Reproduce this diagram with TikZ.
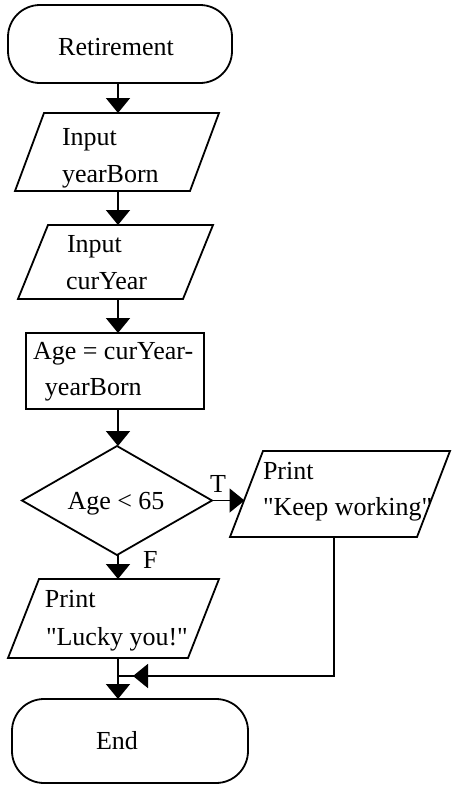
\documentclass[tikz,border=0pt]{standalone}
\usepackage{fontspec}
\setmainfont{Liberation Serif}[Ligatures=TeXOff]
\usetikzlibrary{arrows.meta,calc}
\tikzset{
  shp/.style={draw=none,inner sep=0pt,outer sep=0pt,rectangle},
  outline/.style={draw=black,line width=1.8pt,line join=miter},
  line/.style={draw=black,line width=1.8pt},
  arr/.style={line,-{Triangle[width=24pt,length=15pt]}},
  txt/.style={inner sep=0pt,outer sep=0pt,anchor=base west,font=\fontsize{26}{37}\selectfont},
  ctxt/.style={txt,anchor=base},
}
\newcommand\myparallel[2]{\draw[outline] ([xshift=#2pt]#1.north west) -- (#1.north east) -- ([xshift=-#2pt]#1.south east) -- (#1.south west) -- cycle;}
\begin{document}
\begin{tikzpicture}[x=1pt,y=-1pt]
\useasboundingbox (0,0) rectangle (451,785);
\coordinate (spine) at (118,0);
% shapes
\node[shp,minimum width=224,minimum height=78] (start) at (120,44) {};
\draw[outline,rounded corners=32pt] (start.north west) rectangle (start.south east);
\node[shp,minimum width=204,minimum height=78] (in1) at (117,152) {};
\myparallel{in1}{29}
\node[shp,minimum width=195,minimum height=74] (in2) at (115.5,262) {};
\myparallel{in2}{30}
\node[shp,minimum width=178,minimum height=76] (calc) at (115,371) {};
\draw[outline] (calc.north west) rectangle (calc.south east);
\node[shp,minimum width=190,minimum height=109] (dec) at (117,500.5) {};
\draw[outline] (dec.north) -- (dec.east) -- (dec.south) -- (dec.west) -- cycle;
\node[shp,minimum width=220,minimum height=86] (keep) at (340,494) {};
\myparallel{keep}{33}
\node[shp,minimum width=211,minimum height=79] (lucky) at (113.5,618.5) {};
\myparallel{lucky}{31}
\node[shp,minimum width=236,minimum height=84] (end) at (130,741) {};
\draw[outline,rounded corners=32pt] (end.north west) rectangle (end.south east);
% texts
\node[ctxt] (tstart) at (116,55) {Retirement};
\node[txt] (t1a) at (62,145) {Input};
\node[txt] (t1b) at (62,182) {yearBorn};
\node[txt] (t2a) at (67,252) {Input};
\node[txt] (t2b) at (66,289) {curYear};
\node[txt] (t3a) at (33,359) {Age = curYear-};
\node[txt] (t3b) at (45,395) {yearBorn};
\node[ctxt] (tdec) at (116,509) {Age < 65};
\node[txt] (tT) at (210,492) {T};
\node[txt] (tF) at (143,568) {F};
\node[txt] (tka) at (263,479) {Print};
\node[txt] (tkb) at (263,515) {"Keep working"};
\node[txt] (tla) at (45,607) {Print};
\node[txt] (tlb) at (46,645) {"Lucky you!"};
\node[ctxt] (tend) at (117,749) {End};
% connectors
\draw[arr] (start.south -| spine) -- (in1.north -| spine);
\draw[arr] (in1.south -| spine) -- (in2.north -| spine);
\draw[arr] (in2.south -| spine) -- (calc.north -| spine);
\draw[arr] (calc.south -| spine) -- (dec.north -| spine);
\draw[arr] (dec.south -| spine) -- (lucky.north -| spine);
\draw[arr] (lucky.south -| spine) -- (end.north -| spine);
\coordinate (kin) at (244.5,500.5);
\draw[arr] (dec.east) -- (kin);
\coordinate (kdown) at (334,537);
\coordinate (join) at (118,676);
\draw[line] (kdown) |- (join);
\coordinate (ahead) at (150,676);
\coordinate (atip) at (133,676);
\draw[arr] (ahead) -- (atip);
\end{tikzpicture}
\end{document}
